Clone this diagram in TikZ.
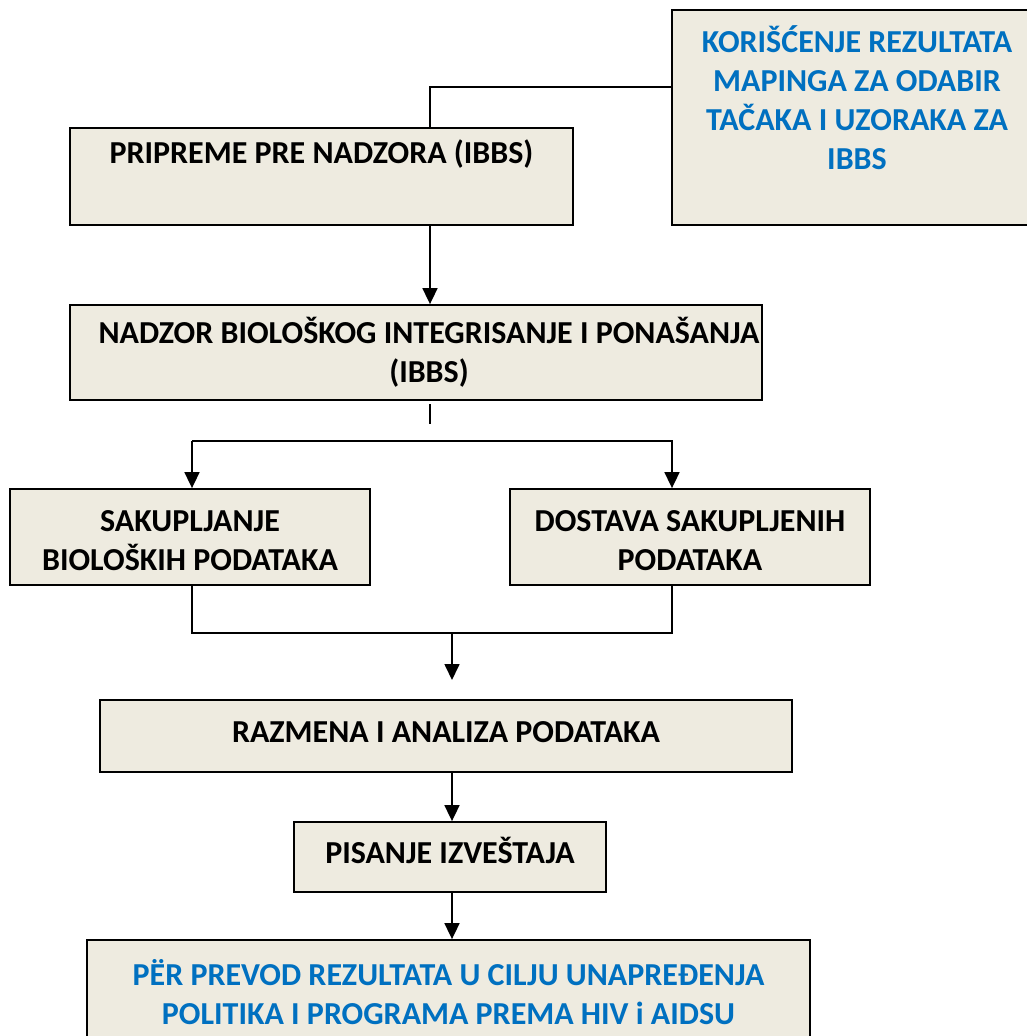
\documentclass[tikz,border=0pt]{standalone}
\usepackage{fontspec}
\setmainfont{Carlito}
\usetikzlibrary{arrows.meta}
\definecolor{nadzorbez}{HTML}{EEEBE0}
\definecolor{nadzorplava}{HTML}{0070C0}
\newcommand{\pomeri}[2]{\raisebox{#1}[\height][\depth]{#2}}
\tikzset{
  kutija/.style={draw=black, line width=1.8pt, fill=nadzorbez, inner sep=0pt,
    align=center, font=\bfseries\fontsize{32}{39}\selectfont},
  veza/.style={line width=1.7pt},
  strelica/.style={veza, -{Triangle[width=15pt,length=16pt]}},
}
\begin{document}
\begin{tikzpicture}[x=1pt,y=-1pt]
  \useasboundingbox (0,0) rectangle (1027,1036);

  % ---- Kutije ---------------------------------------------------------------
  \node[kutija, text=nadzorplava, minimum width=370pt, minimum height=215pt]
    (mapiranje) at (857,117.5) {KORIŠĆENJE REZULTATA\\MAPINGA ZA ODABIR\\TAČAKA I UZORAKA ZA\\IBBS\\[-10pt]\strut};
  \node[kutija, minimum width=503pt, minimum height=97pt]
    (priprema) at (321.5,176.5) {PRIPREME PRE NADZORA (IBBS)\\\strut};
  \node[kutija, minimum width=692pt, minimum height=95pt]
    (nadzor) at (416,352.5) {\hspace*{26pt}NADZOR BIOLOŠKOG INTEGRISANJE I PONAŠANJA\\\hspace*{26pt}(IBBS)};
  \node[kutija, minimum width=360pt, minimum height=96pt]
    (sakupljanje) at (190,537) {\pomeri{-4pt}{SAKUPLJANJE}\\\pomeri{-4pt}{BIOLOŠKIH PODATAKA}};
  \node[kutija, minimum width=360pt, minimum height=96pt]
    (dostava) at (690,537) {\pomeri{-4pt}{DOSTAVA SAKUPLJENIH}\\\pomeri{-4pt}{PODATAKA}};
  \node[kutija, minimum width=692pt, minimum height=72pt]
    (razmena) at (446,736) {\pomeri{4pt}{RAZMENA I ANALIZA PODATAKA}};
  \node[kutija, minimum width=312pt, minimum height=70pt]
    (pisanje) at (450,857) {\pomeri{7pt}{PISANJE IZVEŠTAJA}};
  \node[kutija, text=nadzorplava, minimum width=723pt, minimum height=104pt]
    (prevod) at (448.5,992) {PËR PREVOD REZULTATA U CILJU UNAPREĐENJA\\POLITIKA I PROGRAMA PREMA HIV i AIDSU};

  % ---- Tacke za veze --------------------------------------------------------
  \coordinate (spoj) at (430,87);
  \coordinate (rep1) at (430,404);
  \coordinate (rep2) at (430,424);
  \coordinate (levo) at (192,441);
  \coordinate (desno) at (672,441);
  \coordinate (dnoL) at (192,633);
  \coordinate (dnoD) at (672,633);
  \coordinate (sredina) at (452,633);
  \coordinate (vrh) at (452,680);

  % ---- Veze -----------------------------------------------------------------
  \draw[veza] (mapiranje.west |- spoj) -- (spoj) -- (spoj |- priprema.north);
  \draw[strelica] (spoj |- priprema.south) -- (spoj |- nadzor.north);
  \draw[veza] (rep1) -- (rep2);
  \draw[strelica] (levo) -- (levo |- sakupljanje.north);
  \draw[strelica] (levo) -- (desno) -- (desno |- dostava.north);
  \draw[veza] (dnoL |- sakupljanje.south) -- (dnoL) -- (dnoD) -- (dnoD |- dostava.south);
  \draw[strelica] (sredina) -- (vrh);
  \draw[strelica] (sredina |- razmena.south) -- (sredina |- pisanje.north);
  \draw[strelica] (sredina |- pisanje.south) -- (sredina |- prevod.north);

\end{tikzpicture}
\end{document}
